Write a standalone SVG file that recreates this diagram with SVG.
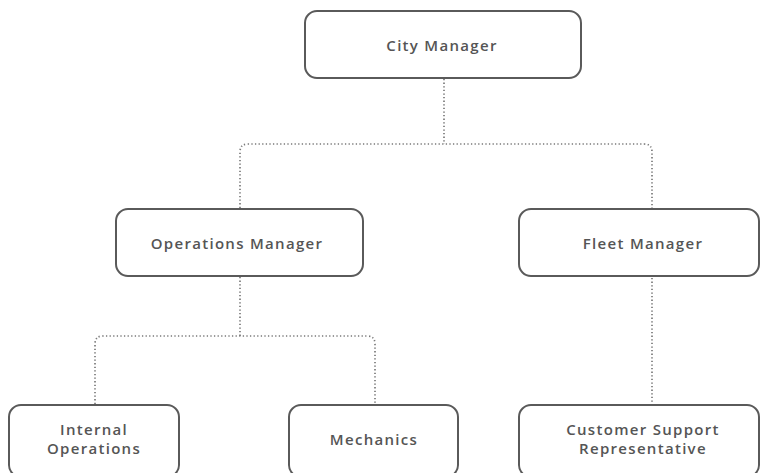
<svg xmlns="http://www.w3.org/2000/svg" width="760" height="473" viewBox="0 0 760 473">
<style>
.box{fill:#fff;stroke:#5a5a5a;stroke-width:2}
.lbl{font-family:"Open Sans","DejaVu Sans",sans-serif;font-weight:600;font-size:15px;letter-spacing:1.3px;fill:#555;text-anchor:middle}
.con{fill:none;stroke:#7a7a7a;stroke-width:1.7;stroke-dasharray:1.3 2.3}
</style>
<rect width="760" height="473" fill="#fff"/>
<g id="connectors">
<path class="con" d="M444 79 V144"/>
<path class="con" d="M240 208 V152 Q240 144 248 144 H644 Q652 144 652 152 V208"/>
<path class="con" d="M240 277 V336"/>
<path class="con" d="M95 404 V344 Q95 336 103 336 H367 Q375 336 375 344 V404"/>
<path class="con" d="M652 278 V404"/>
</g>
<g id="city-manager">
<rect class="box" x="305" y="11" width="276" height="67" rx="12"/>
<text class="lbl" x="442" y="51">City Manager</text>
</g>
<g id="operations-manager">
<rect class="box" x="116" y="209" width="247" height="67" rx="12"/>
<text class="lbl" x="237" y="249">Operations Manager</text>
</g>
<g id="fleet-manager">
<rect class="box" x="519" y="209" width="240" height="67" rx="12"/>
<text class="lbl" x="643" y="249">Fleet Manager</text>
</g>
<g id="internal-operations">
<rect class="box" x="9" y="405" width="170" height="72" rx="12"/>
<text class="lbl" x="94" y="435">Internal</text>
<text class="lbl" x="94" y="454">Operations</text>
</g>
<g id="mechanics">
<rect class="box" x="289" y="405" width="169" height="72" rx="12"/>
<text class="lbl" x="374" y="445">Mechanics</text>
</g>
<g id="customer-support">
<rect class="box" x="519" y="405" width="240" height="72" rx="12"/>
<text class="lbl" x="643" y="435">Customer Support</text>
<text class="lbl" x="643" y="454">Representative</text>
</g>
</svg>
